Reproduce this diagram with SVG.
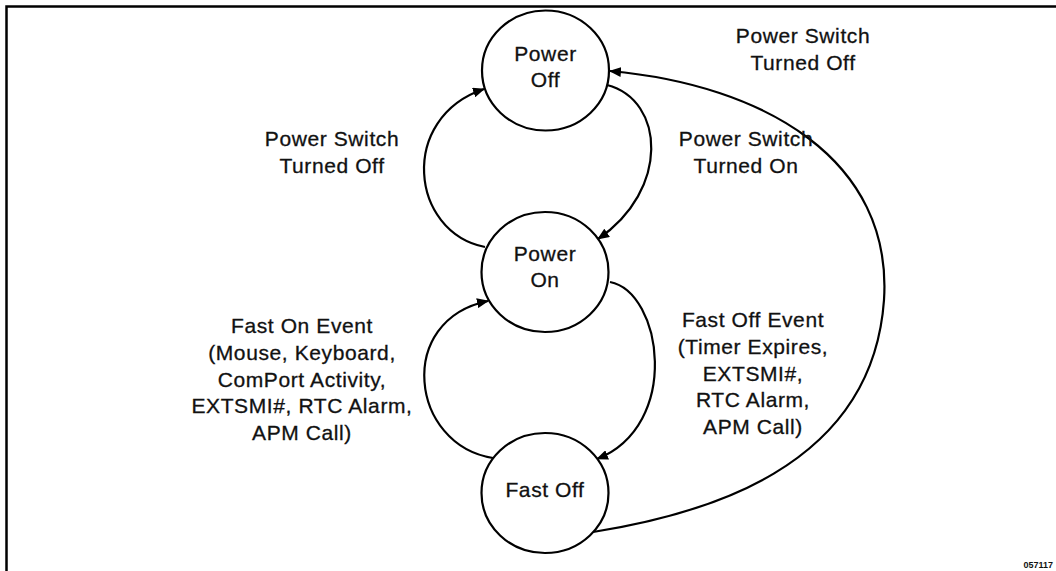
<svg xmlns="http://www.w3.org/2000/svg" width="1056" height="571" viewBox="0 0 1056 571">
<style>
.frame{fill:none;stroke:#000;stroke-width:2.5}
.node{fill:#fff;stroke:#000;stroke-width:2.2}
.edge{fill:none;stroke:#000;stroke-width:2.2}
text{font-family:"Liberation Sans",Arial,sans-serif;font-size:21px;letter-spacing:0.6px;fill:#111;stroke:#111;stroke-width:0.3;text-anchor:middle}
.code{font-size:9px;font-weight:bold;letter-spacing:0;stroke:none;text-anchor:end}
</style>
<defs>
<marker id="arr" viewBox="0 0 12 10" refX="11" refY="5" markerWidth="12" markerHeight="10" markerUnits="userSpaceOnUse" orient="auto">
<path d="M0,0 L12,5 L0,10 z" fill="#000"/>
</marker>
</defs>
<rect width="1056" height="571" fill="#fff"/>
<path class="frame" d="M6.5 571 V6.5 H1056"/>
<g id="connectors">
<path class="edge" marker-end="url(#arr)" d="M485 247 C410 232, 398 118, 484 89"/>
<path class="edge" marker-end="url(#arr)" d="M607 85 C665 100, 670 190, 598 239"/>
<path class="edge" marker-end="url(#arr)" d="M493 458 C410 445, 395 320, 488 301"/>
<path class="edge" marker-end="url(#arr)" d="M610 282 C662 292, 682 425, 597 459"/>
<path class="edge" marker-end="url(#arr)" d="M593 532 C700 515, 872 470, 884 300 C893 160, 765 85, 610 71"/>
</g>
<g id="labels">
<text x="332" y="146">Power Switch</text>
<text x="332" y="173">Turned Off</text>
<text x="746" y="146">Power Switch</text>
<text x="746" y="173">Turned On</text>
<text x="803" y="43">Power Switch</text>
<text x="803" y="70">Turned Off</text>
<text x="302" y="333">Fast On Event</text>
<text x="302" y="360">(Mouse, Keyboard,</text>
<text x="302" y="387">ComPort Activity,</text>
<text x="302" y="413">EXTSMI#, RTC Alarm,</text>
<text x="302" y="440">APM Call)</text>
<text x="753" y="327">Fast Off Event</text>
<text x="753" y="354">(Timer Expires,</text>
<text x="753" y="381">EXTSMI#,</text>
<text x="753" y="407">RTC Alarm,</text>
<text x="753" y="434">APM Call)</text>
</g>
<g id="power-off">
<ellipse class="node" cx="545.5" cy="70.5" rx="63.5" ry="60"/>
<text x="545.5" y="61">Power</text>
<text x="545.5" y="87">Off</text>
</g>
<g id="power-on">
<ellipse class="node" cx="545" cy="272" rx="63.5" ry="60"/>
<text x="545" y="261">Power</text>
<text x="545" y="287">On</text>
</g>
<g id="fast-off">
<ellipse class="node" cx="545" cy="493" rx="63.5" ry="60"/>
<text x="545" y="497">Fast Off</text>
</g>
<text class="code" x="1053" y="568">057117</text>
</svg>
